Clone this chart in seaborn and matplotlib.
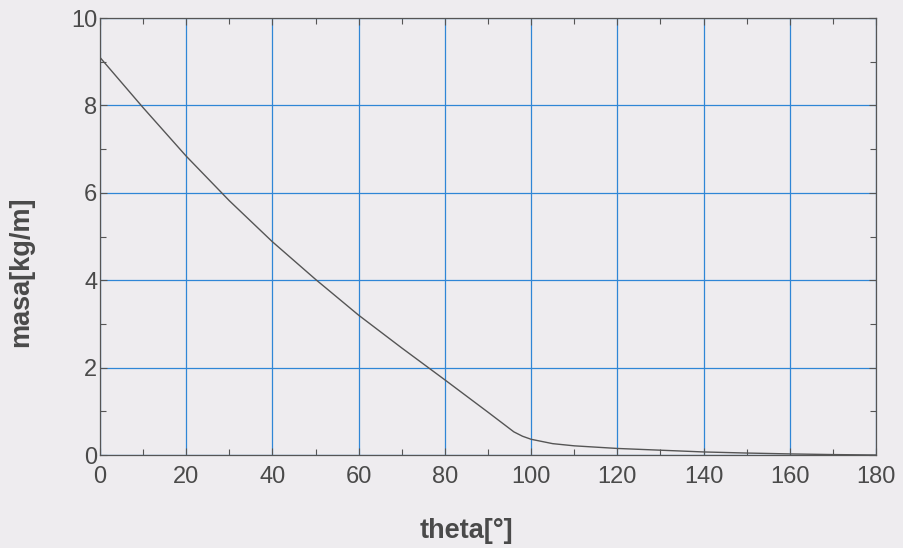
import matplotlib
matplotlib.use("Agg")
import matplotlib.pyplot as plt
import seaborn as sns
import pandas as pd
from matplotlib.ticker import MultipleLocator

# values
theta = [0, 10, 20, 30, 40, 50, 60, 70, 80, 90, 94, 96, 98, 100,
         105, 110, 120, 130, 140, 150, 160, 170, 180]
masa = [9.10, 7.95, 6.84, 5.82, 4.88, 4.02, 3.20, 2.45, 1.72, 0.98, 0.68,
        0.53, 0.43, 0.36, 0.26, 0.21, 0.15, 0.11, 0.07, 0.045, 0.025, 0.01, 0.0]

df = pd.DataFrame({"theta": theta, "masa": masa})

sns.set_style("ticks")
plt.rcParams['font.family'] = ['Liberation Sans', 'DejaVu Sans']

bg = '#eeecef'
txt = '#4a4a4a'
fig = plt.figure(figsize=(9.04, 5.48), dpi=100, facecolor=bg)
ax = fig.add_axes([0.1106, 0.1697, 0.8584, 0.7973])
ax.set_facecolor(bg)

sns.lineplot(data=df, x="theta", y="masa", ax=ax, color='#555555', linewidth=1.0)

ax.set_xlim(0, 180)
ax.set_ylim(0, 10)
ax.xaxis.set_major_locator(MultipleLocator(20))
ax.xaxis.set_minor_locator(MultipleLocator(10))
ax.yaxis.set_major_locator(MultipleLocator(2))
ax.yaxis.set_minor_locator(MultipleLocator(1))
ax.grid(True, which='major', color='#2f86d6', linewidth=0.9)
ax.set_axisbelow(True)

ax.tick_params(which='both', direction='in', top=True, right=True,
               colors='#555555', labelcolor=txt, labelsize=17, width=0.8)
ax.tick_params(which='major', length=5)
ax.tick_params(which='minor', length=4)
ax.tick_params(axis='x', which='major', pad=8)
ax.tick_params(axis='y', which='major', pad=2)
for s in ax.spines.values():
    s.set_color('#555555')
    s.set_linewidth(0.9)

ax.set_xlabel("theta[°]", fontsize=19.5, fontweight='bold', color=txt)
ax.set_ylabel("masa[kg/m]", fontsize=19.5, fontweight='bold', color=txt)
ax.xaxis.set_label_coords(0.472, -0.144)
ax.yaxis.set_label_coords(-0.085, 0.419)

fig.savefig("out.png", dpi=100, facecolor=bg)
